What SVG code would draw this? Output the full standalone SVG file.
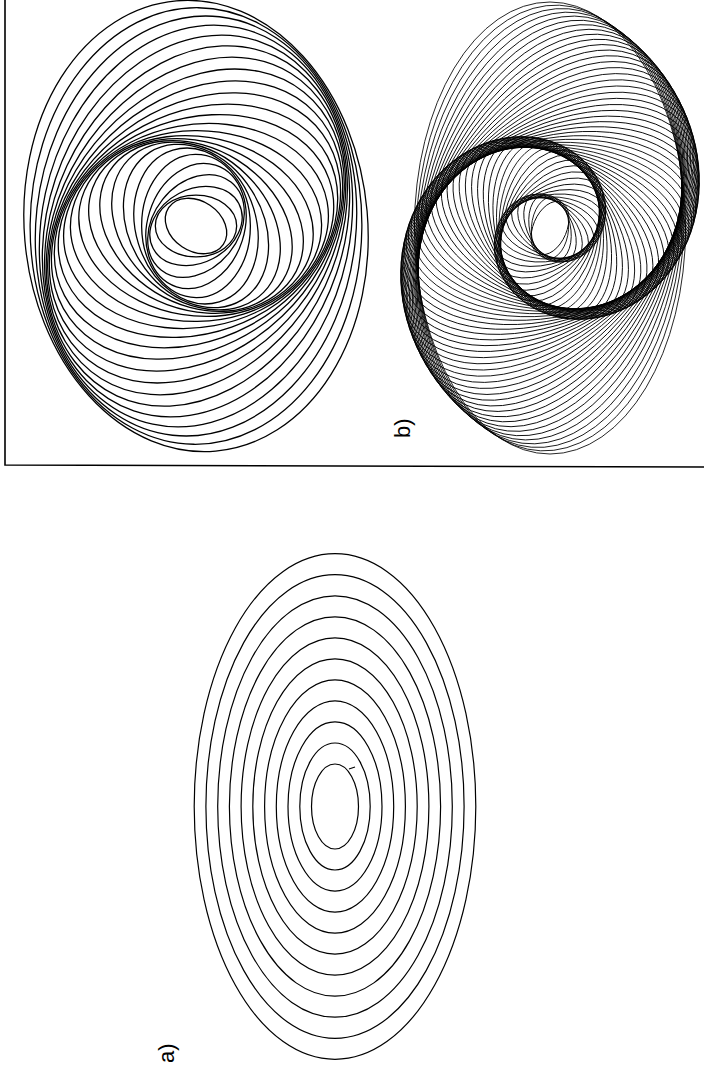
<svg xmlns="http://www.w3.org/2000/svg" width="704" height="1073" viewBox="0 0 704 1073">
<style>
ellipse{fill:none;stroke:#000}
.ea ellipse{stroke-width:1.2}
.s1 ellipse{stroke-width:1.25}
.s2 ellipse{stroke-width:0.85}
.frame{stroke:#000;stroke-width:1.6;fill:none}
.lbl{font-family:"Liberation Sans",Arial,sans-serif;font-size:22px;fill:#000}
</style>
<rect width="704" height="1073" fill="#fff"/>
<g id="frame"><path class="frame" d="M5,0 V465 L704,467"/></g>
<g id="panel-b-left" class="s1" transform="translate(196,226) scale(1.0296)">
<ellipse rx="32" ry="24.3" transform="rotate(33.9)"/>
<ellipse rx="39.5" ry="30" transform="rotate(0.1)"/>
<ellipse rx="47" ry="35.7" transform="rotate(332.2)"/>
<ellipse rx="54.5" ry="41.4" transform="rotate(308.5)"/>
<ellipse rx="62" ry="47.1" transform="rotate(287.8)"/>
<ellipse rx="69.5" ry="52.8" transform="rotate(269.5)"/>
<ellipse rx="77" ry="58.5" transform="rotate(253)"/>
<ellipse rx="84.5" ry="64.2" transform="rotate(238.1)"/>
<ellipse rx="92" ry="69.9" transform="rotate(224.5)"/>
<ellipse rx="99.5" ry="75.6" transform="rotate(211.9)"/>
<ellipse rx="107" ry="81.3" transform="rotate(200.2)"/>
<ellipse rx="114.5" ry="87" transform="rotate(189.4)"/>
<ellipse rx="122" ry="92.7" transform="rotate(179.2)"/>
<ellipse rx="129.5" ry="98.4" transform="rotate(169.6)"/>
<ellipse rx="137" ry="104.1" transform="rotate(160.6)"/>
<ellipse rx="144.5" ry="109.8" transform="rotate(152.1)"/>
<ellipse rx="152" ry="115.5" transform="rotate(143.9)"/>
<ellipse rx="159.5" ry="121.2" transform="rotate(136.2)"/>
<ellipse rx="167" ry="126.9" transform="rotate(128.9)"/>
<ellipse rx="174.5" ry="132.6" transform="rotate(121.8)"/>
<ellipse rx="182" ry="138.3" transform="rotate(115)"/>
<ellipse rx="189.5" ry="144" transform="rotate(108.6)"/>
<ellipse rx="197" ry="149.7" transform="rotate(102.3)"/>
<ellipse rx="204.5" ry="155.4" transform="rotate(96.4)"/>
<ellipse rx="212" ry="161.1" transform="rotate(90.6)"/>
<ellipse rx="219.5" ry="166.8" transform="rotate(85)"/>
</g>
<g id="panel-b-right" class="s2" transform="translate(550,228)">
<ellipse rx="28" ry="16.8" transform="rotate(112.9)"/>
<ellipse rx="31" ry="18.6" transform="rotate(94.2)"/>
<ellipse rx="34" ry="20.4" transform="rotate(77.3)"/>
<ellipse rx="37" ry="22.2" transform="rotate(61.8)"/>
<ellipse rx="40" ry="24" transform="rotate(47.5)"/>
<ellipse rx="43" ry="25.8" transform="rotate(34.2)"/>
<ellipse rx="46" ry="27.6" transform="rotate(21.9)"/>
<ellipse rx="49" ry="29.4" transform="rotate(10.3)"/>
<ellipse rx="52" ry="31.2" transform="rotate(359.4)"/>
<ellipse rx="55" ry="33" transform="rotate(349.1)"/>
<ellipse rx="58" ry="34.8" transform="rotate(339.4)"/>
<ellipse rx="61" ry="36.6" transform="rotate(330.1)"/>
<ellipse rx="64" ry="38.4" transform="rotate(321.3)"/>
<ellipse rx="67" ry="40.2" transform="rotate(312.9)"/>
<ellipse rx="70" ry="42" transform="rotate(304.9)"/>
<ellipse rx="73" ry="43.8" transform="rotate(297.2)"/>
<ellipse rx="76" ry="45.6" transform="rotate(289.8)"/>
<ellipse rx="79" ry="47.4" transform="rotate(282.7)"/>
<ellipse rx="82" ry="49.2" transform="rotate(275.9)"/>
<ellipse rx="85" ry="51" transform="rotate(269.3)"/>
<ellipse rx="88" ry="52.8" transform="rotate(262.9)"/>
<ellipse rx="91" ry="54.6" transform="rotate(256.8)"/>
<ellipse rx="94" ry="56.4" transform="rotate(250.8)"/>
<ellipse rx="97" ry="58.2" transform="rotate(245.1)"/>
<ellipse rx="100" ry="60" transform="rotate(239.5)"/>
<ellipse rx="103" ry="61.8" transform="rotate(234.1)"/>
<ellipse rx="106" ry="63.6" transform="rotate(228.8)"/>
<ellipse rx="109" ry="65.4" transform="rotate(223.7)"/>
<ellipse rx="112" ry="67.2" transform="rotate(218.7)"/>
<ellipse rx="115" ry="69" transform="rotate(213.9)"/>
<ellipse rx="118" ry="70.8" transform="rotate(209.2)"/>
<ellipse rx="121" ry="72.6" transform="rotate(204.5)"/>
<ellipse rx="124" ry="74.4" transform="rotate(200.1)"/>
<ellipse rx="127" ry="76.2" transform="rotate(195.7)"/>
<ellipse rx="130" ry="78" transform="rotate(191.4)"/>
<ellipse rx="133" ry="79.8" transform="rotate(187.2)"/>
<ellipse rx="136" ry="81.6" transform="rotate(183.1)"/>
<ellipse rx="139" ry="83.4" transform="rotate(179.1)"/>
<ellipse rx="142" ry="85.2" transform="rotate(175.2)"/>
<ellipse rx="145" ry="87" transform="rotate(171.4)"/>
<ellipse rx="148" ry="88.8" transform="rotate(167.6)"/>
<ellipse rx="151" ry="90.6" transform="rotate(163.9)"/>
<ellipse rx="154" ry="92.4" transform="rotate(160.3)"/>
<ellipse rx="157" ry="94.2" transform="rotate(156.8)"/>
<ellipse rx="160" ry="96" transform="rotate(153.3)"/>
<ellipse rx="163" ry="97.8" transform="rotate(149.9)"/>
<ellipse rx="166" ry="99.6" transform="rotate(146.6)"/>
<ellipse rx="169" ry="101.4" transform="rotate(143.3)"/>
<ellipse rx="172" ry="103.2" transform="rotate(140.1)"/>
<ellipse rx="175" ry="105" transform="rotate(136.9)"/>
<ellipse rx="178" ry="106.8" transform="rotate(133.8)"/>
<ellipse rx="181" ry="108.6" transform="rotate(130.7)"/>
<ellipse rx="184" ry="110.4" transform="rotate(127.7)"/>
<ellipse rx="187" ry="112.2" transform="rotate(124.7)"/>
<ellipse rx="190" ry="114" transform="rotate(121.8)"/>
<ellipse rx="193" ry="115.8" transform="rotate(118.9)"/>
<ellipse rx="196" ry="117.6" transform="rotate(116.1)"/>
<ellipse rx="199" ry="119.4" transform="rotate(113.3)"/>
<ellipse rx="202" ry="121.2" transform="rotate(110.6)"/>
<ellipse rx="205" ry="123" transform="rotate(107.9)"/>
<ellipse rx="208" ry="124.8" transform="rotate(105.2)"/>
<ellipse rx="211" ry="126.6" transform="rotate(102.6)"/>
<ellipse rx="214" ry="128.4" transform="rotate(100)"/>
<ellipse rx="217" ry="130.2" transform="rotate(97.4)"/>
<ellipse rx="220" ry="132" transform="rotate(94.9)"/>
<ellipse rx="223" ry="133.8" transform="rotate(92.4)"/>
<ellipse rx="226" ry="135.6" transform="rotate(90)"/>
</g>
<g id="label-b"><text class="lbl" transform="translate(410,438) rotate(-90)">b)</text></g>
<g id="panel-a" class="ea" transform="translate(335,806.5)">
<ellipse rx="23.5" ry="42.5"/>
<ellipse rx="35.2" ry="63.5"/>
<ellipse rx="47" ry="84.6"/>
<ellipse rx="58.7" ry="105.6"/>
<ellipse rx="70.4" ry="126.6"/>
<ellipse rx="82.2" ry="147.7"/>
<ellipse rx="93.9" ry="168.7"/>
<ellipse rx="105.6" ry="189.7"/>
<ellipse rx="117.3" ry="210.7"/>
<ellipse rx="129.1" ry="231.8"/>
<ellipse rx="140.8" ry="252.8"/>
<path d="M14,-37.5 L20,-39.5" stroke="#000" stroke-width="1.2" fill="none"/>
</g>
<g id="label-a"><text class="lbl" transform="translate(174,1063) rotate(-90)">a)</text></g>
</svg>
